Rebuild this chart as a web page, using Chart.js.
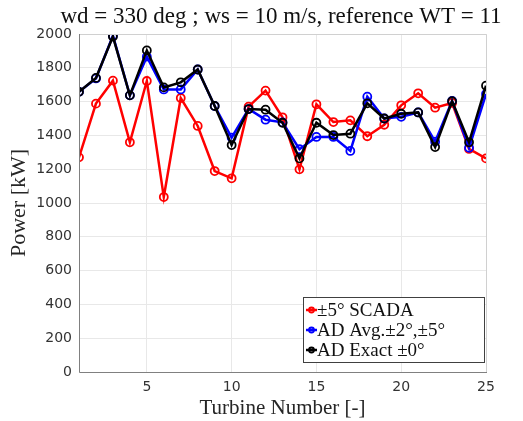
<!DOCTYPE html>
<html>
<head>
<meta charset="utf-8">
<script src="https://cdn.jsdelivr.net/npm/chart.js@4"></script>
<style>
  html, body { margin:0; padding:0; background:#fff; }
  #wrap { width:523px; height:421px; }
</style>
</head>
<body>
<div id="wrap"><canvas id="powerChart" width="523" height="421"></canvas></div>
<script>
const turbines = Array.from({length:25}, (_, i) => i + 1);
const scada   = [1270,1588,1724,1359,1722,1035,1621,1456,1189,1146,1570,1665,1507,1199,1584,1479,1489,1395,1463,1578,1649,1564,1592,1320,1264];
const adAvg   = [1658,1737,1990,1637,1866,1672,1672,1790,1574,1387,1556,1493,1477,1318,1391,1391,1308,1629,1500,1510,1536,1363,1604,1327,1645];
const adExact = [1658,1740,1985,1637,1903,1684,1714,1790,1574,1343,1556,1552,1475,1264,1475,1402,1410,1590,1500,1528,1536,1331,1602,1359,1694];
const xTicks  = [5,10,15,20,25];
const labels  = ['\u00b15\u00b0 SCADA', 'AD Avg.\u00b12\u00b0,\u00b15\u00b0', 'AD Exact \u00b10\u00b0'];
const colors  = ['#ff0000', '#0000ff', '#000000'];
const titleText = 'wd = 330 deg ; ws = 10 m/s, reference WT = 11';

const serif = "'Liberation Serif', 'DejaVu Serif', serif";
const sans  = "'DejaVu Sans', sans-serif";

function series(data, i) {
    return {
        label: labels[i],
        data: data.map((v, k) => ({x: turbines[k], y: v})),
        borderColor: colors[i], backgroundColor: 'rgba(0,0,0,0)',
        borderWidth: 2.5, pointRadius: 4, pointBorderWidth: 1.8,
        pointBackgroundColor: 'rgba(0,0,0,0)', pointBorderColor: colors[i],
        tension: 0, order: 2 - i
    };
}

// title, axes box and legend (inside lower right)
const decor = {
    id: 'decor',
    afterDraw(chart) {
        const {ctx, chartArea: a} = chart;
        ctx.save();
        ctx.fillStyle = '#111';
        ctx.font = '23px ' + serif;
        ctx.textAlign = 'center'; ctx.textBaseline = 'middle';
        ctx.fillText(titleText, 281, 17);

        ctx.lineWidth = 1;
        ctx.strokeStyle = '#d0d0d0';
        ctx.beginPath();
        ctx.moveTo(a.left, a.top + .5); ctx.lineTo(a.right + .5, a.top + .5); ctx.lineTo(a.right + .5, a.bottom);
        ctx.stroke();
        ctx.strokeStyle = '#808080';
        ctx.beginPath();
        ctx.moveTo(a.left + .5, a.top); ctx.lineTo(a.left + .5, a.bottom + .5); ctx.lineTo(a.right + 1, a.bottom + .5);
        ctx.stroke();

        // legend
        const w = 181, h = 65, x0 = a.right - w - 2, y0 = a.bottom - h - 10;
        ctx.fillStyle = '#fff';
        ctx.fillRect(x0, y0, w, h);
        ctx.strokeStyle = '#404040';
        ctx.strokeRect(x0 + .5, y0 + .5, w, h);
        ctx.font = '19px ' + serif;
        ctx.textAlign = 'left';
        chart.data.datasets.forEach((ds, i) => {
            const yy = y0 + 13 + i * 20;
            ctx.strokeStyle = ds.borderColor; ctx.lineWidth = 2.5;
            ctx.beginPath(); ctx.moveTo(x0 + 3, yy); ctx.lineTo(x0 + 14, yy); ctx.stroke();
            ctx.lineWidth = 1.8;
            ctx.beginPath(); ctx.arc(x0 + 8.5, yy, 2.5, 0, Math.PI * 2); ctx.stroke();
            ctx.fillStyle = '#111';
            ctx.fillText(ds.label, x0 + 14, yy + 1);
        });
        ctx.restore();
    }
};

new Chart(document.getElementById('powerChart'), {
    type: 'line',
    data: { datasets: [series(scada, 0), series(adAvg, 1), series(adExact, 2)] },
    options: {
        responsive: false, animation: false,
        layout: { padding: { left: 0, right: 37, top: 34, bottom: 0 } },
        plugins: { legend: { display: false }, tooltip: { enabled: false } },
        scales: {
            x: {
                type: 'linear', min: 1, max: 25,
                afterBuildTicks: s => { s.ticks = xTicks.map(v => ({value: v})); },
                afterFit: s => { s.height = 49; },
                grid: { color: '#e8e8e8', drawTicks: false },
                border: { display: false },
                ticks: { color: '#333', font: { family: sans, size: 14 }, padding: 7, maxRotation: 0,
                         callback: v => String(v) },
                title: { display: true, text: 'Turbine Number [-]', color: '#262626',
                         font: { family: serif, size: 21 }, padding: { top: 0, bottom: 0 } }
            },
            y: {
                min: 0, max: 2000,
                afterFit: s => { s.width = 79; },
                grid: { color: '#e8e8e8', drawTicks: false },
                border: { display: false },
                ticks: { stepSize: 200, color: '#333', font: { family: sans, size: 14 }, padding: 7,
                         callback: v => String(v) },
                title: { display: true, text: 'Power [kW]', color: '#262626',
                         font: { family: serif, size: 22 }, padding: { top: 6, bottom: 0 } }
            }
        }
    },
    plugins: [decor]
});
</script>
</body>
</html>
